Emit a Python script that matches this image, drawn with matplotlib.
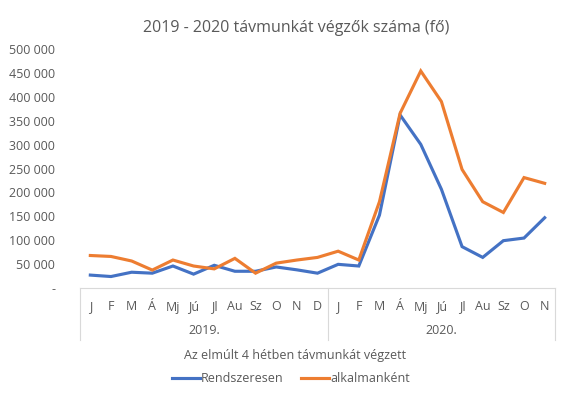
import numpy as np
import matplotlib.pyplot as plt
import matplotlib.transforms as mtransforms
from matplotlib.ticker import FuncFormatter

plt.rcParams['font.family'] = ['Open Sans', 'DejaVu Sans']

months = ["J", "F", "M", "Á", "Mj", "Jú", "Jl", "Au", "Sz", "O", "N", "D",
          "J", "F", "M", "Á", "Mj", "Jú", "Jl", "Au", "Sz", "O", "N"]
years = ["2019.", "2020."]
year_len = [12, 11]

rendszeresen = [27000, 24000, 33000, 31000, 46000, 29000, 47500, 35000, 35000, 44000, 38000, 31000,
                49500, 46000, 152500, 362000, 300500, 206500, 86500, 64000, 99000, 104500, 147000]
alkalmankent = [68000, 66000, 56500, 37500, 58500, 46000, 40000, 62000, 31000, 52000, 58500, 64000,
                77000, 58500, 180500, 365500, 454000, 390000, 248000, 180500, 158000, 231000, 219000]

grey = "#595959"
W, H = 577, 396

fig = plt.figure(figsize=(W / 100, H / 100), dpi=100)
ax = fig.add_axes([80 / W, 1 - 288 / H, 475 / W, 239 / H])

x = np.arange(len(months))
ax.plot(x, rendszeresen, color="#4472C4", lw=2.25, label="Rendszeresen", solid_joinstyle="miter")
ax.plot(x, alkalmankent, color="#ED7D31", lw=2.25, label="alkalmanként", solid_joinstyle="miter")

ax.set_xlim(-0.5, len(months) - 0.5)
ax.set_ylim(0, 500000)
ax.set_yticks(np.arange(0, 500001, 50000))


def fmt(v, pos):
    if v == 0:
        return "-"
    return f"{int(v):,}".replace(",", " ")


ax.yaxis.set_major_formatter(FuncFormatter(fmt))
ax.tick_params(axis="y", length=0, pad=18, labelsize=9, labelcolor=grey)
ax.set_xticks(x)
ax.set_xticklabels(months)
ax.tick_params(axis="x", length=0, pad=9, labelsize=9, labelcolor=grey)

for s in ["top", "right", "left"]:
    ax.spines[s].set_visible(False)
ax.spines["bottom"].set_color("#d9d9d9")

# multi-level category box
trans = mtransforms.blended_transform_factory(ax.transData, ax.transAxes)
bottom = -(340 - 288) / 239
year_y = -(331 - 288) / 239
start = 0
edges = [-0.5]
for yr, n in zip(years, year_len):
    ax.text(start + (n - 1) / 2, year_y, yr, transform=trans, ha="center", va="center",
            fontsize=9, color=grey)
    start += n
    edges.append(start - 0.5)
for e in edges:
    ax.plot([e, e], [0, bottom], transform=trans, color="#d9d9d9", lw=0.8, clip_on=False)

fig.text(296 / W, 1 - 28 / H, "2019 - 2020 távmunkát végzők száma (fő)", ha="center", va="center",
         fontsize=11.5, color=grey)
fig.text(295 / W, 1 - 356 / H, "Az elmúlt 4 hétben távmunkát végzett", ha="center", va="center",
         fontsize=9, color=grey)

leg = fig.legend(loc="center", bbox_to_anchor=(291 / W, 1 - 379 / H), ncol=2, frameon=False,
                 fontsize=9, handlelength=2.2, handletextpad=0.1, columnspacing=1.4,
                 labelcolor=grey)

fig.savefig("out.png", dpi=100)
